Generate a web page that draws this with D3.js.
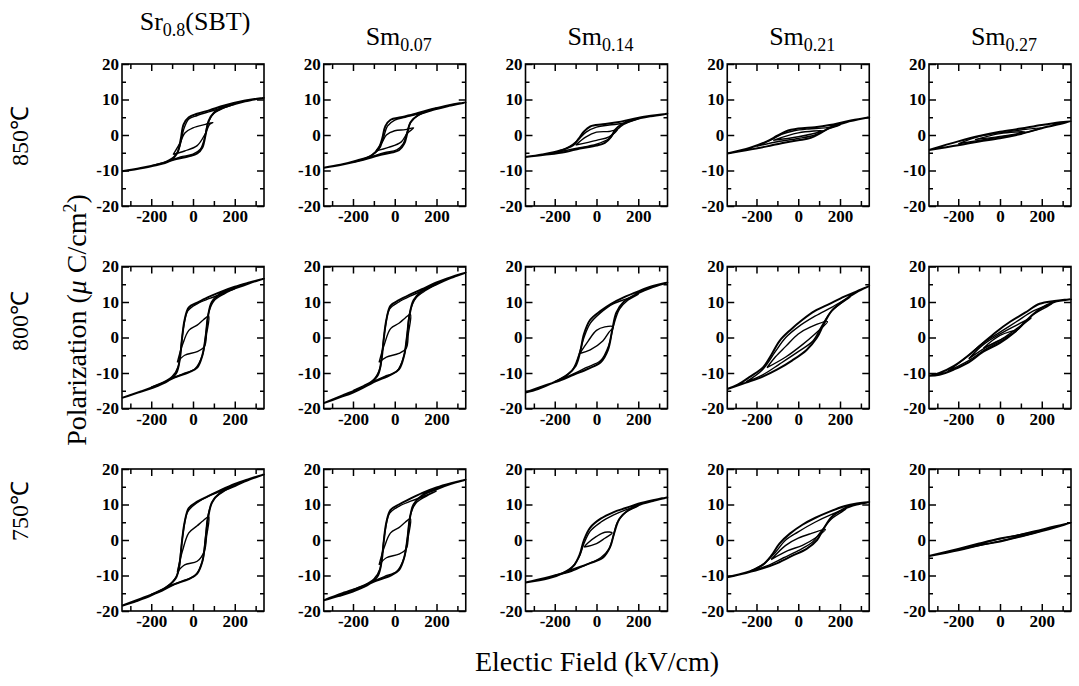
<!DOCTYPE html>
<html>
<head>
<meta charset="utf-8">
<script src="https://cdn.jsdelivr.net/npm/d3@7"></script>
<style>
  body { margin: 0; background: #fff; }
  text { font-family: "Liberation Serif", "Times New Roman", serif; fill: #000; }
</style>
</head>
<body>
<div id="chart"></div>
<script>

// column titles and row labels
var colBase = ["Sr", "Sm", "Sm", "Sm", "Sm"]
var colSub = ["0.8", "0.07", "0.14", "0.21", "0.27"]
var colTail = ["(SBT)", "", "", "", ""]
var rowLabels = ["850℃", "800℃", "750℃"]

// ticks
var yLabelTicks = [-20, -10, 0, 10, 20]
var yMinorTicks = [-15, -5, 5, 15]
var xLabelTicks = [-200, 0, 200]
var xMinorTicks = [-300, -100, 100, 300]

// loops, each one: rising branch then falling branch, [E (kV/cm), P (uC/cm2)]
var loops850_sbt = [
  [[-340,-10.2],[-250,-9.3],[-150,-8],[-80,-6.8],[-20,-6],[20,-5.2],[45,-3.5],[60,0],[75,4],[100,6.3],[150,7.8],[250,9.5],[340,10.5],
   [250,9.7],[150,8.3],[80,7],[20,6],[-20,5],[-45,3],[-58,-1],[-75,-5],[-110,-7.3],[-200,-8.8],[-280,-9.7],[-340,-10.2]],
  [[-200,-8.7],[-120,-7.4],[-60,-6.2],[0,-5.4],[35,-4],[55,-1],[70,3],[95,5.8],[140,7.4],[200,8.7],
   [140,7.6],[80,6.6],[20,5.5],[-20,4.5],[-45,1.5],[-60,-2.5],[-80,-5.5],[-130,-7.5],[-200,-8.7]],
  [[-95,-5.5],[-40,-4.5],[20,-3],[60,0.5],[80,3],[95,3.5],
   [60,3],[0,2],[-40,0.5],[-60,-2],[-95,-5.5]]
]
var loops850_sm07 = [
  [[-340,-9.2],[-250,-8.3],[-150,-7],[-80,-5.8],[-20,-5],[20,-4.3],[45,-2.5],[60,0.5],[75,3.5],[110,5.5],[180,7],[260,8.2],[340,9.2],
   [260,8.4],[180,7.3],[100,6],[30,5],[-20,4.3],[-45,2.5],[-60,-1],[-75,-3.5],[-110,-5.7],[-180,-7.2],[-260,-8.4],[-340,-9.2]],
  [[-200,-7.7],[-120,-6.3],[-50,-5],[10,-4.2],[40,-2.5],[60,1],[80,4],[120,5.8],[200,7.6],
   [120,6],[50,5],[0,4.2],[-35,2.5],[-55,-1],[-75,-4],[-120,-6],[-200,-7.7]],
  [[-90,-4.5],[-30,-3.5],[30,-2],[60,0.5],[90,2],
   [50,1.5],[0,1.2],[-40,0],[-60,-2],[-90,-4.5]]
]
var loops850_sm14 = [
  [[-340,-6.2],[-250,-5.6],[-150,-4.8],[-80,-3.8],[0,-3],[40,-2.2],[70,-0.5],[90,1.5],[120,3],[180,4.3],[260,5.3],[340,6],
   [260,5.4],[180,4.6],[100,3.6],[30,3],[-30,2.4],[-60,1],[-85,-1],[-110,-2.8],[-170,-4.3],[-260,-5.5],[-340,-6.2]],
  [[-200,-5],[-100,-3.8],[0,-2.6],[60,-1],[90,1],[130,3],[200,4.6],
   [130,3.3],[60,2.8],[0,2.2],[-50,0.8],[-90,-1.5],[-130,-3.3],[-200,-5]],
  [[-100,-2.8],[0,-1.5],[60,-0.5],[100,1.5],
   [60,1],[0,0.8],[-50,-0.5],[-100,-2.8]]
]
var loops850_sm21 = [
  [[-340,-5.2],[-250,-4.3],[-150,-3.2],[-80,-2.3],[0,-1.5],[60,-0.8],[100,0.3],[150,2],[230,3.6],[340,5],
   [230,3.8],[150,2.8],[80,2.2],[0,1.8],[-60,1],[-100,-0.2],[-150,-1.8],[-230,-3.6],[-340,-5.2]],
  [[-200,-3.2],[-100,-1.9],[0,-1],[80,0],[130,1.4],[200,2.8],
   [130,2],[50,1.7],[-20,1.2],[-80,0.2],[-130,-1.4],[-200,-3.2]],
  [[-120,-1.5],[0,-0.5],[120,1.2],
   [0,0.6],[-120,-1.5]]
]
var loops850_sm27 = [
  [[-340,-4.2],[-200,-2.9],[-100,-1.8],[0,-0.9],[100,0.3],[200,1.9],[340,3.9],
   [200,2.8],[100,1.8],[0,0.9],[-100,-0.3],[-200,-1.8],[-340,-4.2]],
  [[-200,-2.5],[-100,-1.5],[0,-0.6],[100,0.4],[200,2],
   [100,1.4],[0,0.6],[-100,-0.4],[-200,-2.5]],
  [[-120,-1.3],[0,-0.4],[120,0.9],
   [0,0.4],[-120,-1.3]]
]

var loops800_sbt = [
  [[-340,-17],[-250,-15.2],[-150,-13],[-90,-11.3],[-20,-9.8],[20,-8.5],[45,-5],[60,0],[72,6],[90,10],[130,12.2],[200,13.8],[270,15.3],[340,16.6],
   [270,15.5],[200,14.3],[130,12.8],[70,11.3],[20,9.8],[-20,8.5],[-40,5],[-52,0],[-63,-6],[-80,-10],[-120,-12.2],[-200,-14.3],[-270,-15.6],[-340,-17]],
  [[-200,-14],[-120,-12],[-50,-10.3],[10,-8.8],[45,-5],[62,1],[75,7],[100,10.3],[150,12.3],[200,13.8],
   [150,12.6],[80,11],[20,9.5],[-25,7.5],[-45,3],[-58,-3],[-70,-8],[-100,-11],[-150,-12.8],[-200,-14]],
  [[-75,-7],[-40,-5],[20,-4],[55,-2.5],[65,1],[75,6],
   [50,5],[20,3.5],[-20,2],[-50,-2],[-75,-7]]
]
var loops800_sm07 = [
  [[-340,-18.5],[-250,-16.3],[-150,-14],[-90,-12.3],[-20,-10.5],[20,-9],[45,-5],[58,0],[70,6],[90,10.5],[130,13],[200,15],[270,16.8],[340,18.3],
   [270,17],[200,15.5],[130,13.6],[70,12],[20,10.5],[-20,9],[-40,5],[-52,0],[-63,-6],[-80,-10.5],[-120,-13],[-200,-15.5],[-270,-17],[-340,-18.5]],
  [[-200,-15],[-120,-12.8],[-50,-11],[10,-9.5],[45,-5],[60,1],[72,7],[100,11],[150,13.3],[200,15],
   [150,13.6],[80,11.8],[20,10],[-25,8],[-45,3],[-58,-3],[-70,-8.5],[-100,-11.8],[-150,-13.6],[-200,-15]],
  [[-75,-7],[-40,-5.5],[20,-4.5],[55,-3],[65,1],[75,6.5],
   [50,5.5],[20,4],[-20,2.5],[-50,-2],[-75,-7]]
]
var loops800_sm14 = [
  [[-340,-15.5],[-250,-13.6],[-170,-12],[-110,-10.5],[-40,-8.8],[20,-7],[55,-3.5],[75,2],[95,7],[130,10],[200,12.5],[270,14.2],[340,15.5],
   [270,14.5],[200,13],[130,11.3],[70,9.5],[20,7.5],[-30,5],[-60,1],[-78,-4],[-100,-8],[-140,-10.5],[-210,-12.8],[-280,-14.5],[-340,-15.5]],
  [[-200,-12.5],[-120,-10.5],[-50,-8.5],[20,-6.5],[60,-2],[80,3],[110,8],[150,10.5],[200,12.2],
   [150,11],[80,9.5],[20,7],[-30,4],[-60,0],[-85,-5],[-120,-9.5],[-200,-12.5]],
  [[-80,-4.5],[-30,-3.5],[30,-1],[60,1.5],[80,3],
   [40,3],[0,2],[-40,-1],[-80,-4.5]]
]
var loops800_sm21 = [
  [[-340,-14.5],[-250,-12.7],[-170,-11],[-100,-9],[-30,-6.5],[40,-3.5],[90,0],[120,3.5],[160,7.5],[220,10.5],[280,12.8],[340,14.5],
   [280,13],[220,11.5],[150,9.5],[80,7.5],[20,5],[-40,2],[-90,-1],[-130,-5],[-170,-8.5],[-230,-11],[-290,-13.3],[-340,-14.5]],
  [[-250,-12.5],[-170,-10.5],[-90,-7.5],[0,-4],[70,-1],[110,3],[160,7.5],[250,11.5],
   [160,8.5],[80,6],[0,3],[-60,0],[-110,-4],[-170,-9],[-250,-12.5]],
  [[-150,-8.5],[-60,-5.5],[20,-2],[80,1],[140,4.5],
   [60,3],[0,1],[-60,-2.5],[-110,-5.5],[-150,-8.5]]
]
var loops800_sm27 = [
  [[-340,-10.8],[-290,-10.5],[-220,-9],[-150,-7],[-80,-4],[0,-1.5],[70,1.5],[130,5],[190,8],[260,10],[340,10.8],
   [260,10.3],[190,9.5],[120,7],[50,4.5],[-20,1.5],[-90,-2],[-150,-5],[-220,-8],[-290,-10],[-340,-10.8]],
  [[-250,-9.5],[-150,-6.5],[-60,-3],[20,-0.5],[90,2.5],[160,6.5],[250,9.5],
   [160,7.5],[80,4.5],[0,1.5],[-80,-1.5],[-160,-5.5],[-250,-9.5]],
  [[-150,-6],[-60,-2.5],[20,0],[80,2.5],[150,5.5],
   [80,3.5],[0,1],[-80,-2],[-150,-6]],
  [[-80,-3],[0,-0.8],[80,2],
   [0,0.6],[-80,-3]]
]

var loops750_sbt = [
  [[-340,-18.5],[-250,-16.5],[-150,-14.3],[-90,-12.5],[-20,-11],[20,-9.5],[45,-6],[60,0],[72,6],[90,10.5],[130,13.3],[200,15.2],[270,17],[340,18.5],
   [270,17.2],[200,15.8],[130,14],[70,12.3],[20,10.8],[-20,9],[-40,5],[-52,0],[-63,-6],[-80,-10.5],[-120,-13],[-200,-15.6],[-270,-17.2],[-340,-18.5]],
  [[-200,-15.3],[-120,-13.2],[-50,-11.5],[10,-10],[45,-6],[60,1],[72,7],[100,11.5],[150,13.8],[200,15.5],
   [150,14.2],[80,12.5],[20,10.5],[-25,8],[-45,3],[-58,-3],[-70,-9],[-100,-12],[-150,-14],[-200,-15.3]],
  [[-75,-9],[-40,-7],[20,-6],[55,-3],[65,1],[75,6.5],
   [50,5.5],[20,4],[-20,2],[-50,-3],[-75,-9]]
]
var loops750_sm07 = [
  [[-340,-17],[-250,-15],[-150,-13],[-90,-11.5],[-20,-10],[20,-8.5],[45,-5],[60,0],[72,6],[90,10],[130,12.5],[200,14.3],[270,15.8],[340,17],
   [270,16],[200,14.8],[130,13.2],[70,11.5],[20,10],[-20,8.5],[-40,5],[-52,0],[-63,-6],[-80,-10],[-120,-12.3],[-200,-14.5],[-270,-15.8],[-340,-17]],
  [[-200,-14],[-120,-12],[-50,-10.3],[10,-8.8],[45,-5],[62,1],[75,7],[100,10.3],[150,12.3],[200,13.8],
   [150,12.6],[80,11],[20,9.5],[-25,7.5],[-45,3],[-58,-3],[-70,-8],[-100,-11],[-150,-12.8],[-200,-14]],
  [[-75,-7],[-40,-5],[20,-4],[55,-2.5],[65,1],[75,6],
   [50,5],[20,3.5],[-20,2],[-50,-2],[-75,-7]]
]
var loops750_sm14 = [
  [[-340,-12],[-250,-10.8],[-170,-9.5],[-100,-8],[-30,-6.5],[30,-5],[65,-2],[85,2],[110,6],[150,8.3],[200,9.8],[270,11],[340,12],
   [270,11.2],[200,10.2],[140,9],[80,7.8],[20,6],[-30,3.5],[-60,0],[-80,-4],[-110,-7.3],[-160,-9.3],[-230,-10.8],[-340,-12]],
  [[-200,-10],[-120,-8.8],[-50,-7],[20,-5],[60,-2.5],[80,1],[100,5],[140,7.8],[200,9.6],
   [140,8.5],[80,7],[20,5],[-30,2.5],[-60,-1],[-85,-5],[-130,-8.3],[-200,-10]],
  [[-60,-2],[0,-1],[40,0.5],[75,2],
   [40,2.2],[0,1],[-40,-0.8],[-60,-2]]
]
var loops750_sm21 = [
  [[-340,-10.5],[-250,-9.3],[-170,-8],[-100,-6.5],[-30,-4.5],[40,-2.5],[90,0],[120,3],[160,6.5],[220,8.8],[280,10],[340,10.7],
   [280,10.3],[220,9.5],[150,8],[80,6.2],[20,4.3],[-40,1.8],[-90,-1],[-130,-4.5],[-170,-7],[-230,-8.8],[-290,-9.8],[-340,-10.5]],
  [[-230,-8.8],[-150,-7.3],[-70,-5],[0,-3],[70,-0.5],[110,2.5],[160,6],[230,8.8],
   [160,7.2],[80,5],[0,2.3],[-60,0],[-110,-3.5],[-160,-6.5],[-230,-8.8]],
  [[-130,-5.5],[-50,-3],[20,-1.5],[80,0.5],[130,3],
   [60,1.8],[0,0.5],[-60,-1.5],[-130,-5.5]]
]
var loops750_sm27 = [
  [[-340,-4.5],[-200,-2.9],[-100,-1.5],[0,-0.4],[100,1],[200,2.5],[340,4.9],
   [200,2.9],[100,1.5],[0,0.4],[-100,-1],[-200,-2.5],[-340,-4.5]],
  [[-200,-2.7],[0,-0.3],[200,2.6],
   [0,0.3],[-200,-2.7]]
]

var panels = [
  [loops850_sbt, loops850_sm07, loops850_sm14, loops850_sm21, loops850_sm27],
  [loops800_sbt, loops800_sm07, loops800_sm14, loops800_sm21, loops800_sm27],
  [loops750_sbt, loops750_sm07, loops750_sm14, loops750_sm21, loops750_sm27]
]

// layout
var W = 1079, H = 686
var panelW = 142, panelH = 142
var colLeft = function(c) { return 122 + c * 201.75 }
var rowTop = function(r) { return 64 + r * 202.5 }
var rowLabelY = [136, 321, 511]

var svg = d3.select("#chart").append("svg")
    .attr("width", W)
    .attr("height", H)

var x = d3.scaleLinear().domain([-340, 340]).range([0, panelW])
var y = d3.scaleLinear().domain([-20, 20]).range([panelH, 0])

var line = d3.line()
    .x(function(d) { return x(d[0]) })
    .y(function(d) { return y(d[1]) })
    .curve(d3.curveCatmullRom.alpha(0.5))

var plain = function(d) { return String(d) }

function styleAxis(g) {
  g.attr("font-family", "Liberation Serif").attr("font-size", 17)
  g.select(".domain").remove()
  g.selectAll(".tick line").attr("stroke", "#000").attr("stroke-width", 1.5)
  g.selectAll(".tick text")
    .style("font-family", "'Liberation Serif', 'Times New Roman', serif")
    .style("font-size", "17px")
    .style("font-weight", "bold")
    .attr("fill", "#000")
}

panels.forEach(function(row, r) {
  row.forEach(function(loops, c) {
    var g = svg.append("g")
        .attr("transform", "translate(" + colLeft(c) + "," + rowTop(r) + ")")

    // loops
    g.selectAll(".loop")
        .data(loops)
      .enter().append("path")
        .attr("class", "loop")
        .attr("d", line)
        .attr("fill", "none")
        .attr("stroke", "#000")
        .attr("stroke-width", function(d, i) { return i == 0 ? 2 : 1.4 })
        .attr("stroke-linejoin", "round")

    // inward ticks on all four sides
    g.append("g").call(d3.axisLeft(y).tickValues(yLabelTicks).tickSize(-7).tickSizeOuter(0).tickPadding(3).tickFormat(plain)).call(styleAxis)
    g.append("g").call(d3.axisLeft(y).tickValues(yMinorTicks).tickSize(-4).tickSizeOuter(0).tickFormat("")).call(styleAxis)
    g.append("g").attr("transform", "translate(" + panelW + ",0)")
        .call(d3.axisRight(y).tickValues(yLabelTicks).tickSize(-7).tickSizeOuter(0).tickFormat("")).call(styleAxis)
    g.append("g").attr("transform", "translate(" + panelW + ",0)")
        .call(d3.axisRight(y).tickValues(yMinorTicks).tickSize(-4).tickSizeOuter(0).tickFormat("")).call(styleAxis)
    g.append("g").attr("transform", "translate(0," + panelH + ")")
        .call(d3.axisBottom(x).tickValues(xLabelTicks).tickSize(-7).tickSizeOuter(0).tickPadding(4).tickFormat(plain)).call(styleAxis)
    g.append("g").attr("transform", "translate(0," + panelH + ")")
        .call(d3.axisBottom(x).tickValues(xMinorTicks).tickSize(-5).tickSizeOuter(0).tickFormat("")).call(styleAxis)
    g.append("g")
        .call(d3.axisTop(x).tickValues(xLabelTicks).tickSize(-7).tickSizeOuter(0).tickFormat("")).call(styleAxis)
    g.append("g")
        .call(d3.axisTop(x).tickValues(xMinorTicks).tickSize(-5).tickSizeOuter(0).tickFormat("")).call(styleAxis)

    // frame
    g.append("rect")
        .attr("width", panelW)
        .attr("height", panelH)
        .attr("fill", "none")
        .attr("stroke", "#000")
        .attr("stroke-width", 1.6)
  })
})

// column titles
colBase.forEach(function(b, c) {
  var t = svg.append("text")
      .attr("x", colLeft(c) + panelW / 2 + (c == 0 ? 2 : 4))
      .attr("y", c == 0 ? 30 : 45)
      .attr("text-anchor", "middle")
      .style("font-size", "26px")
  t.append("tspan").text(b)
  t.append("tspan").attr("dy", 6).style("font-size", "18px").text(colSub[c])
  if (colTail[c]) t.append("tspan").attr("dy", -6).text(colTail[c])
})

// row labels
rowLabels.forEach(function(lab, r) {
  svg.append("text")
      .attr("transform", "translate(28," + rowLabelY[r] + ") rotate(-90)")
      .attr("text-anchor", "middle")
      .style("font-size", "24px")
      .text(lab)
})

// y axis title
var yt = svg.append("text")
    .attr("transform", "translate(86,320) rotate(-90)")
    .attr("text-anchor", "middle")
    .style("font-size", "28px")
yt.append("tspan").text("Polarization (")
yt.append("tspan").style("font-style", "italic").text("μ")
yt.append("tspan").text(" C/cm")
yt.append("tspan").attr("dy", -10).style("font-size", "18px").text("2")
yt.append("tspan").attr("dy", 10).text(")")

// x axis title
svg.append("text")
    .attr("x", 597)
    .attr("y", 671)
    .attr("text-anchor", "middle")
    .style("font-size", "28px")
    .text("Electic Field (kV/cm)")

</script>
</body>
</html>
